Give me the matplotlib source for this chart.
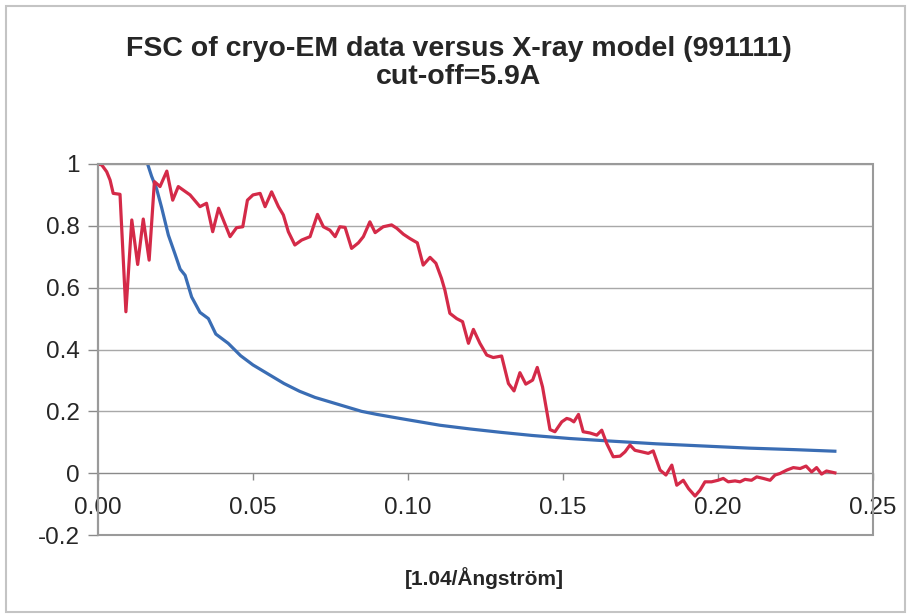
import matplotlib
matplotlib.use("Agg")
import matplotlib.pyplot as plt
from matplotlib.patches import Rectangle

# ── data ───────────────────────────────────────────────────────────────
red_x = [0.0000, 0.0012, 0.0028, 0.0039, 0.0049, 0.0071, 0.0090, 0.0109, 0.0128, 0.0146,
         0.0165, 0.0182, 0.0200, 0.0222, 0.0241, 0.0259, 0.0297, 0.0329, 0.0350, 0.0370,
         0.0389, 0.0426, 0.0447, 0.0467, 0.0482, 0.0500, 0.0523, 0.0539, 0.0560, 0.0582,
         0.0598, 0.0614, 0.0635, 0.0657, 0.0684, 0.0708, 0.0727, 0.0748, 0.0765, 0.0780,
         0.0797, 0.0818, 0.0840, 0.0856, 0.0877, 0.0894, 0.0920, 0.0947, 0.0964, 0.0985,
         0.1006, 0.1030, 0.1049, 0.1071, 0.1090, 0.1108, 0.1119, 0.1135, 0.1157, 0.1176,
         0.1195, 0.1211, 0.1232, 0.1254, 0.1275, 0.1302, 0.1324, 0.1342, 0.1361, 0.1380,
         0.1402, 0.1417, 0.1434, 0.1458, 0.1474, 0.1496, 0.1512, 0.1523, 0.1535, 0.1550,
         0.1565, 0.1587, 0.1609, 0.1625, 0.1641, 0.1662, 0.1684, 0.1700, 0.1716, 0.1732,
         0.1754, 0.1775, 0.1791, 0.1813, 0.1832, 0.1851, 0.1867, 0.1888, 0.1905, 0.1926,
         0.1942, 0.1958, 0.1979, 0.2000, 0.2017, 0.2033, 0.2055, 0.2071, 0.2087, 0.2108,
         0.2125, 0.2146, 0.2168, 0.2184, 0.2200, 0.2222, 0.2243, 0.2265, 0.2284, 0.2302,
         0.2318, 0.2334, 0.2350, 0.2377]
red_y = [1.000, 0.997, 0.975, 0.948, 0.905, 0.902, 0.522, 0.819, 0.675, 0.822,
         0.689, 0.943, 0.927, 0.977, 0.883, 0.927, 0.900, 0.862, 0.873, 0.781,
         0.857, 0.765, 0.794, 0.797, 0.883, 0.900, 0.905, 0.862, 0.910, 0.862,
         0.835, 0.781, 0.738, 0.754, 0.765, 0.837, 0.797, 0.786, 0.765, 0.797,
         0.795, 0.727, 0.745, 0.765, 0.813, 0.778, 0.797, 0.803, 0.792, 0.773,
         0.759, 0.745, 0.673, 0.698, 0.679, 0.630, 0.592, 0.517, 0.500, 0.490,
         0.420, 0.465, 0.420, 0.382, 0.374, 0.379, 0.290, 0.266, 0.325, 0.288,
         0.301, 0.342, 0.279, 0.141, 0.134, 0.166, 0.177, 0.174, 0.166, 0.190,
         0.134, 0.130, 0.123, 0.139, 0.096, 0.053, 0.055, 0.069, 0.091, 0.074,
         0.069, 0.064, 0.072, 0.010, -0.006, 0.026, -0.039, -0.023, -0.050, -0.074,
         -0.055, -0.028, -0.028, -0.023, -0.017, -0.028, -0.025, -0.028, -0.020, -0.023,
         -0.012, -0.017, -0.023, -0.006, -0.001, 0.010, 0.018, 0.015, 0.023, 0.004,
         0.018, -0.003, 0.007, 0.001]

blue_x = [0.0160, 0.0173, 0.0189, 0.0205, 0.0227, 0.0248, 0.0265, 0.0281, 0.0302, 0.0329,
          0.0356, 0.0380, 0.0420, 0.0460, 0.0500, 0.0550, 0.0600, 0.0650, 0.0700, 0.0750,
          0.0800, 0.0850, 0.0900, 0.0974, 0.1103, 0.1200, 0.1300, 0.1400, 0.1523, 0.1650,
          0.1800, 0.1950, 0.2100, 0.2250, 0.2377]
blue_y = [1.000, 0.960, 0.920, 0.860, 0.770, 0.710, 0.660, 0.640, 0.570, 0.520,
          0.500, 0.450, 0.420, 0.380, 0.350, 0.320, 0.290, 0.265, 0.245, 0.230,
          0.215, 0.200, 0.190, 0.177, 0.155, 0.143, 0.132, 0.122, 0.112, 0.104,
          0.095, 0.088, 0.081, 0.076, 0.071]

x_ticks = [0.00, 0.05, 0.10, 0.15, 0.20, 0.25]
x_ticklabels = ["0.00", "0.05", "0.10", "0.15", "0.20", "0.25"]
y_ticks = [-0.2, 0, 0.2, 0.4, 0.6, 0.8, 1]
y_ticklabels = ["-0.2", "0", "0.2", "0.4", "0.6", "0.8", "1"]

title = "FSC of cryo-EM data versus X-ray model (991111)\ncut-off=5.9A"
xlabel = "[1.04/Ångström]"

RED = "#d42a48"
BLUE = "#3a6db4"
TEXT = "#262626"

plt.rcParams["font.family"] = ["Liberation Sans", "DejaVu Sans"]

W, H = 909, 616
fig = plt.figure(figsize=(W / 100, H / 100), dpi=100)
fig.patch.set_facecolor("white")

# outer chart frame
fig.add_artist(Rectangle((6 / W, 1 - 612 / H), 899 / W, 606 / H,
                         transform=fig.transFigure, fill=False,
                         edgecolor="#c4c4c4", linewidth=1.5))

left, right, top, bottom = 98, 873, 164, 535
ax = fig.add_axes([left / W, 1 - bottom / H, (right - left) / W, (bottom - top) / H])

ax.plot(blue_x, blue_y, color=BLUE, linewidth=2.3, solid_joinstyle="round", zorder=3)
ax.plot(red_x, red_y, color=RED, linewidth=2.3, solid_joinstyle="round", zorder=4)

ax.set_xlim(0, 0.25)
ax.set_ylim(-0.2, 1)
ax.set_xticks(x_ticks)
ax.set_xticklabels(x_ticklabels)
ax.set_yticks(y_ticks)
ax.set_yticklabels(y_ticklabels)

ax.grid(axis="y", color="#a8a8a8", linewidth=1.0)
ax.set_axisbelow(True)

# plot-area box; the x axis itself crosses at y = 0
for side in ("top", "right"):
    ax.spines[side].set_visible(False)
ax.spines["bottom"].set_position(("data", 0))
ax.spines["bottom"].set_color("#8a8a8a")
ax.spines["left"].set_color("#7a7a7a")
ax.spines["left"].set_linewidth(1.5)
ax.add_patch(Rectangle((0, 0), 1, 1, transform=ax.transAxes, fill=False,
                       edgecolor="#9a9a9a", linewidth=1.5, zorder=5, clip_on=False))

ax.tick_params(axis="x", direction="out", length=5, width=1, color="#8a8a8a",
               pad=12, labelsize=17.5, labelcolor=TEXT)
ax.tick_params(axis="y", direction="out", length=7, width=1, color="#8a8a8a",
               pad=6, labelsize=17.5, labelcolor=TEXT)

fig.text(459 / W, 1 - 63 / H, title, ha="center", va="center", fontsize=20.5,
         fontweight="bold", color=TEXT, linespacing=1.1)
fig.text(484 / W, 1 - 578 / H, xlabel, ha="center", va="center", fontsize=15,
         fontweight="bold", color=TEXT)

fig.savefig("out.png", dpi=100)
